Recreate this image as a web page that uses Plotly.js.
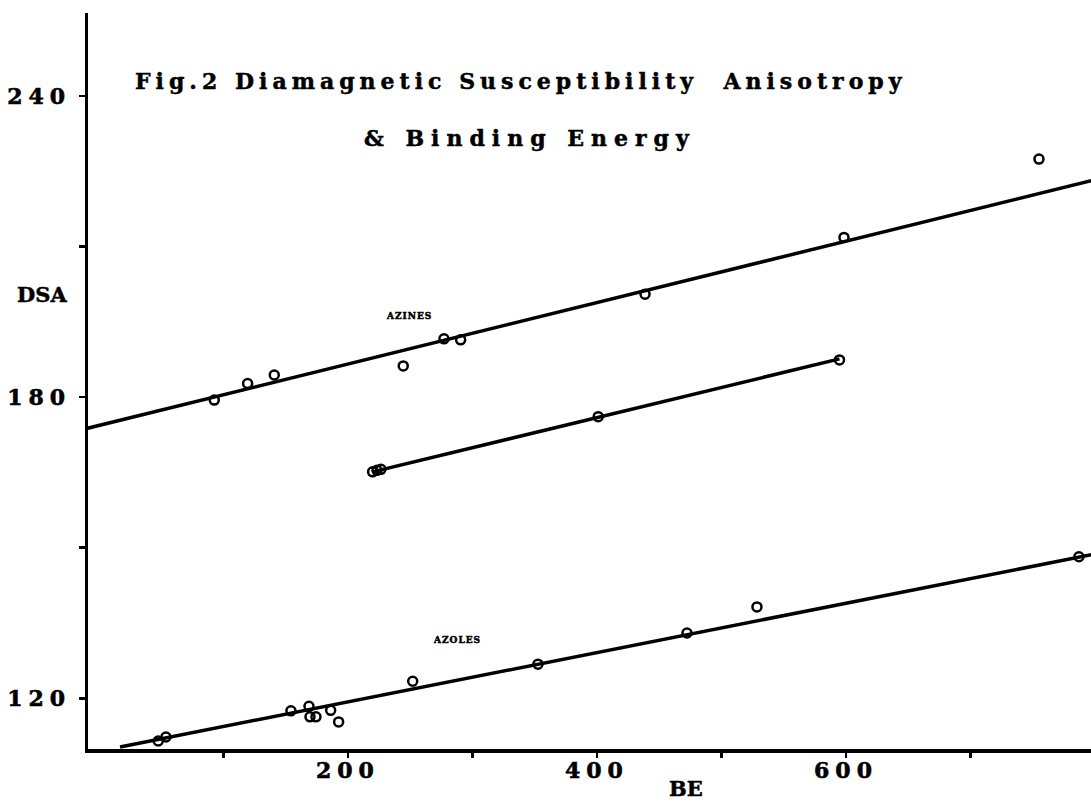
<!DOCTYPE html>
<html>
<head>
<meta charset="utf-8">
<script src="https://cdn.plot.ly/plotly-3.0.1.min.js"></script>
<style>
  html, body { margin: 0; padding: 0; background: #fff; }
  #chart { width: 1091px; height: 806px; }
  .xtick text, .ytick text { letter-spacing: 6px; stroke: #000; stroke-width: 0.6px; }
  .annotation-text { stroke: #000; stroke-width: 0.5px; }
</style>
</head>
<body>
<div id="chart"></div>
<script>
// ---- Data ----
const azinesBE  = [92.6, 119.4, 140.8, 244.4, 277.1, 290.5, 438.6, 598.4, 755.0];
const azinesDSA = [179.4, 182.7, 184.4, 186.2, 191.6, 191.4, 200.5, 211.8, 227.4];
const azinesFitBE  = [-9, 797];
const azinesFitDSA = [173.8, 223.1];

const middleBE  = [219.8, 223.3, 226.5, 401.0, 594.8];
const middleDSA = [165.1, 165.4, 165.6, 176.1, 187.4];
const middleFitBE  = [219.8, 594.8];
const middleFitDSA = [165.1, 187.6];

const azolesBE  = [47.6, 53.8, 154.2, 168.7, 169.5, 174.3, 186.1, 192.5, 252.0, 352.6, 472.3, 528.5, 787.1];
const azolesDSA = [111.5, 112.3, 117.5, 118.4, 116.3, 116.3, 117.6, 115.3, 123.4, 126.8, 133.0, 138.2, 148.2];
const azolesFitBE  = [16.9, 797];
const azolesFitDSA = [110.3, 148.6];

const xTickVals = [100, 200, 300, 400, 500, 600, 700];
const xTickText = ['', '200', '', '400', '', '600', ''];
const yTickVals = [120, 150, 180, 210, 240];
const yTickText = ['120', '', '180', '', '240'];

const titleLine1 = 'Fig.2 Diamagnetic Susceptibility  Anisotropy';
const titleLine2 = '& Binding Energy';

// ---- Traces ----
const lineStyle = {color: '#000', width: 3.5};
const markerStyle = {symbol: 'circle-open', size: 9, color: '#000', line: {width: 2.5, color: '#000'}};

const traces = [
  {x: azinesFitBE, y: azinesFitDSA, mode: 'lines', line: lineStyle, name: 'Azines fit'},
  {x: middleFitBE, y: middleFitDSA, mode: 'lines', line: lineStyle, name: 'Middle fit'},
  {x: azolesFitBE, y: azolesFitDSA, mode: 'lines', line: lineStyle, name: 'Azoles fit'},
  {x: azinesBE, y: azinesDSA, mode: 'markers', marker: markerStyle, name: 'Azines'},
  {x: middleBE, y: middleDSA, mode: 'markers', marker: markerStyle, name: 'Middle'},
  {x: azolesBE, y: azolesDSA, mode: 'markers', marker: markerStyle, name: 'Azoles'}
];

const serif = 'DejaVu Serif, Liberation Serif, serif';

const layout = {
  width: 1091,
  height: 806,
  margin: {l: 88, r: 0, t: 13, b: 57, pad: 0},
  paper_bgcolor: '#fff',
  plot_bgcolor: '#fff',
  showlegend: false,
  hovermode: false,
  font: {family: serif, color: '#000'},
  xaxis: {
    range: [-8.8, 796.8],
    showgrid: false, zeroline: false,
    showline: true, linecolor: '#000', linewidth: 3.5,
    ticks: 'outside', ticklen: 5, tickwidth: 2.5, tickcolor: '#000',
    tickmode: 'array', tickvals: xTickVals, ticktext: xTickText,
    tickfont: {family: serif, size: 22, weight: 'bold', color: '#000'},
    ticklabelstandoff: -6
  },
  yaxis: {
    range: [109.9, 256.5],
    showgrid: false, zeroline: false,
    showline: true, linecolor: '#000', linewidth: 3.5,
    ticks: 'outside', ticklen: 6, tickwidth: 2.5, tickcolor: '#000',
    tickmode: 'array', tickvals: yTickVals, ticktext: yTickText,
    tickfont: {family: serif, size: 22, weight: 'bold', color: '#000'},
    ticklabelstandoff: 3
  },
  annotations: [
    {xref: 'paper', yref: 'paper', x: 0.0449, y: 0.9076, xanchor: 'left', yanchor: 'middle',
     text: '<span style="letter-spacing:5px">' + titleLine1 + '</span>', showarrow: false,
     font: {family: serif, size: 22, weight: 'bold', color: '#000'}},
    {xref: 'paper', yref: 'paper', x: 0.2732, y: 0.830, xanchor: 'left', yanchor: 'middle',
     text: '<span style="letter-spacing:7px">' + titleLine2 + '</span>', showarrow: false,
     font: {family: serif, size: 22, weight: 'bold', color: '#000'}},
    {xref: 'paper', yref: 'paper', x: -0.0459, y: 0.618, xanchor: 'center', yanchor: 'middle',
     text: 'DSA', showarrow: false,
     font: {family: serif, size: 21, weight: 'bold', color: '#000'}},
    {xref: 'paper', yref: 'paper', x: 0.596, y: -0.0530, xanchor: 'center', yanchor: 'middle',
     text: 'BE', showarrow: false,
     font: {family: serif, size: 21, weight: 'bold', color: '#000'}},
    {xref: 'x', yref: 'y', x: 249, y: 196.1, xanchor: 'center', yanchor: 'middle',
     text: '<span style="letter-spacing:1px">AZINES</span>', showarrow: false,
     font: {family: serif, size: 9, weight: 'bold', color: '#000'}},
    {xref: 'x', yref: 'y', x: 287.6, y: 131.6, xanchor: 'center', yanchor: 'middle',
     text: '<span style="letter-spacing:1px">AZOLES</span>', showarrow: false,
     font: {family: serif, size: 9, weight: 'bold', color: '#000'}}
  ]
};

Plotly.newPlot('chart', traces, layout, {staticPlot: true, displayModeBar: false});
</script>
</body>
</html>
